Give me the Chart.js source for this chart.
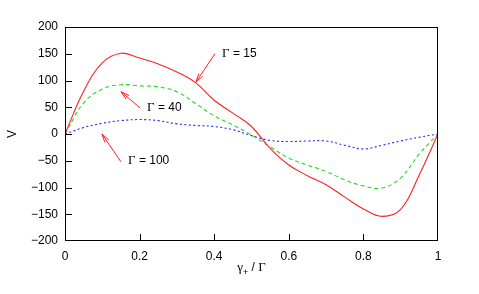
<!DOCTYPE html>
<html><head><meta charset="utf-8">
<script src="https://cdn.jsdelivr.net/npm/chart.js@4/dist/chart.umd.min.js"></script>
<style>html,body{margin:0;padding:0;background:#fff}</style>
</head><body>
<canvas id="c" width="479" height="294" style="width:479px;height:294px;display:block"></canvas>
<script>
// ---- data ----
const xValues   = [0, 0.05, 0.1, 0.15, 0.2, 0.25, 0.3, 0.35, 0.4, 0.45, 0.5, 0.55, 0.6, 0.65, 0.7, 0.75, 0.8, 0.85, 0.9, 0.95, 1];
const vGamma15  = [0, 80, 133, 151, 142, 131, 116, 96, 63, 39, 14, -27, -58, -78, -95, -118, -140, -154, -141, -76, 0];
const vGamma40  = [0, 58, 84, 92, 90, 88, 79, 57, 34, 17, -2, -24, -45, -58, -70, -86, -97, -101, -82, -37, 0];
const vGamma100 = [0, 12, 20, 25, 27, 25, 19, 16, 14, 8, -3, -12, -14, -13, -13, -21, -28, -21, -13, -6, 0];
const seriesNames = ['Γ = 15', 'Γ = 40', 'Γ = 100'];
const xTicks = [0, 0.2, 0.4, 0.6, 0.8, 1];
const yTicks = [-200, -150, -100, -50, 0, 50, 100, 150, 200];
// annotation labels (data coordinates): label anchor, arrow start, arrow tip
const notes = [
  {num: '15',  x: 0.421, y: 150, ax: 0.402, ay: 150, tx: 0.351, ty: 97},
  {num: '40',  x: 0.220, y: 49,  ax: 0.201, ay: 49,  tx: 0.150, ty: 79},
  {num: '100', x: 0.169, y: -49, ax: 0.150, ay: -52, tx: 0.099, ty: 0}
];

const pts = arr => arr.map((v, i) => ({x: xValues[i], y: v}));

const decor = {
  id: 'decor',
  afterDraw(chart) {
    const ctx = chart.ctx, a = chart.chartArea;
    const xs = chart.scales.x, ys = chart.scales.y;
    ctx.save();
    // frame
    ctx.strokeStyle = '#000'; ctx.lineWidth = 1;
    ctx.strokeRect(Math.round(a.left) + 0.5, Math.round(a.top) + 0.5,
                   Math.round(a.right - a.left) - 1, Math.round(a.bottom - a.top) - 1);
    // inward ticks
    ctx.beginPath();
    yTicks.slice(1, -1).forEach(v => {
      const py = Math.round(ys.getPixelForValue(v)) + 0.5;
      ctx.moveTo(a.left, py); ctx.lineTo(a.left + 7, py);
    });
    xTicks.slice(1, -1).forEach(v => {
      const px = Math.round(xs.getPixelForValue(v)) + 0.5;
      ctx.moveTo(px, a.bottom); ctx.lineTo(px, a.bottom - 7);
    });
    ctx.stroke();
    // annotations
    notes.forEach(n => {
      const x0 = xs.getPixelForValue(n.ax), y0 = ys.getPixelForValue(n.ay);
      const x1 = xs.getPixelForValue(n.tx), y1 = ys.getPixelForValue(n.ty);
      ctx.strokeStyle = '#ff2020'; ctx.lineWidth = 1;
      ctx.beginPath(); ctx.moveTo(x0, y0); ctx.lineTo(x1, y1);
      const ang = Math.atan2(y1 - y0, x1 - x0), L = 9, w = 0.26;
      ctx.moveTo(x1 - L * Math.cos(ang - w), y1 - L * Math.sin(ang - w));
      ctx.lineTo(x1, y1);
      ctx.lineTo(x1 - L * Math.cos(ang + w), y1 - L * Math.sin(ang + w));
      ctx.stroke();
      const lx = xs.getPixelForValue(n.x), ly = ys.getPixelForValue(n.y);
      ctx.fillStyle = '#000'; ctx.textBaseline = 'middle'; ctx.textAlign = 'left';
      ctx.font = '13px "Liberation Serif"';
      ctx.fillText('Γ', lx, ly);
      const gw = ctx.measureText('Γ').width;
      ctx.font = '12px "Liberation Sans"';
      ctx.fillText(' = ' + n.num, lx + gw, ly);
    });
    // x axis title: γ+ / Γ
    const cx = (a.left + a.right) / 2, ty = 271;
    ctx.fillStyle = '#000'; ctx.textBaseline = 'alphabetic';
    ctx.font = '13px "Liberation Serif"';
    const g1 = ctx.measureText('γ').width;
    ctx.font = '9px "Liberation Sans"';
    const pw = ctx.measureText('+').width;
    ctx.font = '12px "Liberation Sans"';
    const sw = ctx.measureText(' / ').width;
    ctx.font = '13px "Liberation Serif"';
    const g2 = ctx.measureText('Γ').width;
    let sx = cx - (g1 + pw + sw + g2) / 2;
    ctx.textAlign = 'left';
    ctx.fillText('γ', sx, ty); sx += g1;
    ctx.font = '9px "Liberation Sans"'; ctx.fillText('+', sx, ty + 4); sx += pw;
    ctx.font = '12px "Liberation Sans"'; ctx.fillText(' / ', sx, ty); sx += sw;
    ctx.font = '13px "Liberation Serif"'; ctx.fillText('Γ', sx, ty);
    ctx.restore();
  }
};

new Chart(document.getElementById('c'), {
  type: 'line',
  data: {
    datasets: [
      {label: seriesNames[0], data: pts(vGamma15), borderColor: '#ff2020', borderWidth: 1.1,
       pointRadius: 0, tension: 0.4, fill: false},
      {label: seriesNames[1], data: pts(vGamma40), borderColor: '#20dd20', borderWidth: 1.1, borderDash: [4, 3],
       pointRadius: 0, tension: 0.4, fill: false},
      {label: seriesNames[2], data: pts(vGamma100), borderColor: '#2020ff', borderWidth: 1.1, borderDash: [2, 2.5],
       pointRadius: 0, tension: 0.4, fill: false}
    ]
  },
  options: {
    responsive: false, animation: false, devicePixelRatio: 1,
    layout: {padding: {top: 27, right: 41, left: 0, bottom: 0}},
    plugins: {legend: {display: false}, tooltip: {enabled: false}},
    scales: {
      x: {
        type: 'linear', min: 0, max: 1,
        afterBuildTicks: s => { s.ticks = xTicks.map(v => ({value: v})); },
        afterFit: s => { s.height = 53; },
        grid: {display: false, drawTicks: false}, border: {display: false},
        ticks: {padding: 8, color: '#000', font: {family: 'Liberation Sans', size: 12},
                maxRotation: 0, autoSkip: false, callback: v => String(v)}
      },
      y: {
        type: 'linear', min: -200, max: 200,
        afterBuildTicks: s => { s.ticks = yTicks.map(v => ({value: v})); },
        afterFit: s => { s.width = 65; },
        grid: {display: false, drawTicks: false}, border: {display: false},
        ticks: {padding: 7, color: '#000', font: {family: 'Liberation Sans', size: 12},
                autoSkip: false, callback: v => String(v).replace('-', '\u2212')},
        title: {display: true, text: 'V', color: '#000', padding: {top: 5, bottom: 0},
                font: {family: 'Liberation Sans', size: 12}}
      }
    }
  },
  plugins: [decor]
});
</script>
</body></html>
